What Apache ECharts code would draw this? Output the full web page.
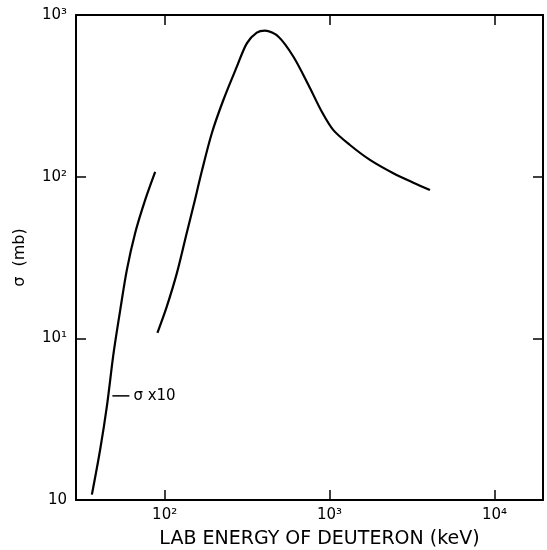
<!DOCTYPE html>
<html>
<head>
<meta charset="utf-8">
<script src="https://cdn.jsdelivr.net/npm/echarts@6/dist/echarts.min.js"></script>
<style>html,body{margin:0;padding:0;background:#fff}#c{width:547px;height:550px}</style>
</head>
<body>
<div id="c"></div>
<script>
// Lab energy of deuteron (keV) and sigma (mb)
const lowEnergy = [36.2, 40.6, 44.6, 49.0, 53.8, 59.0, 66.2, 76.2, 87.6];
const lowSigmaX10 = [1.08, 2.04, 3.78, 8.09, 15.0, 26.5, 44.7, 71.8, 107];
const mainEnergy = [90.4, 103, 118.6, 136, 149.6, 168, 193, 227, 274, 315, 362, 406, 490, 604, 745, 898, 1055, 1330, 1758, 2436, 3222, 4064];
const mainSigma = [10.8, 15.7, 25.3, 44.7, 66, 108, 185, 298, 479, 668, 778, 800, 734, 552, 369, 252, 194, 157, 127, 105, 91.8, 82.7];
const xTickValues = [100, 1000, 10000];
const xTickLabels = ['10²', '10³', '10⁴'];
const yTickValues = [1, 10, 100, 1000];
const yTickLabels = ['10', '10¹', '10²', '10³'];
const annotationPoint = [47.2, 4.47];
const annotationText = 'σ x10';
const xTitle = 'LAB ENERGY OF DEUTERON (keV)';
const yTitle = 'σ  (mb)';

const font = 'DejaVu Sans';
function pairs(xs, ys) { return xs.map((x, i) => [x, ys[i]]); }
function labelFor(values, labels) {
  return function (v) {
    for (let i = 0; i < values.length; i++) {
      if (Math.abs(Math.log10(v) - Math.log10(values[i])) < 0.01) return labels[i];
    }
    return '';
  };
}
const axisLine = { show: true, lineStyle: { color: '#000', width: 2 } };
const tick = { show: true, inside: true, length: 10, lineStyle: { color: '#000', width: 1.5 } };

const chart = echarts.init(document.getElementById('c'), null, { renderer: 'canvas' });
chart.setOption({
  animation: false,
  backgroundColor: '#fff',
  grid: { left: 76, right: 4, top: 15, bottom: 50, containLabel: false, outerBoundsMode: 'none' },
  xAxis: [
    {
      type: 'log', logBase: 10, min: 29, max: 19700, position: 'bottom',
      axisLine: axisLine, axisTick: tick, splitLine: { show: false }, minorTick: { show: false },
      axisLabel: { formatter: labelFor(xTickValues, xTickLabels), color: '#000', fontFamily: font, fontSize: 15, margin: 8 },
      name: xTitle, nameLocation: 'middle', nameGap: 30,
      nameTextStyle: { color: '#000', fontFamily: font, fontSize: 19, padding: [0, 0, 0, 20] }
    },
    {
      type: 'log', logBase: 10, min: 29, max: 19700, position: 'top',
      axisLine: axisLine, axisTick: tick, splitLine: { show: false }, axisLabel: { show: false }
    }
  ],
  yAxis: [
    {
      type: 'log', logBase: 10, min: 1, max: 1000, position: 'left',
      axisLine: axisLine, axisTick: tick, splitLine: { show: false }, minorTick: { show: false },
      axisLabel: { formatter: labelFor(yTickValues, yTickLabels), color: '#000', fontFamily: font, fontSize: 15, margin: 9 },
      name: yTitle, nameLocation: 'middle', nameGap: 48, nameRotate: 90,
      nameTextStyle: { color: '#000', fontFamily: font, fontSize: 16 }
    },
    {
      type: 'log', logBase: 10, min: 1, max: 1000, position: 'right',
      axisLine: axisLine, axisTick: tick, splitLine: { show: false }, axisLabel: { show: false }
    }
  ],
  series: [
    {
      type: 'line', xAxisIndex: 0, yAxisIndex: 0, data: pairs(lowEnergy, lowSigmaX10),
      smooth: 0.3, showSymbol: false, symbol: 'none',
      lineStyle: { color: '#000', width: 2.2 },
      markPoint: {
        symbol: 'rect', symbolSize: [17, 1.5], symbolOffset: [10, 1],
        itemStyle: { color: '#000' },
        label: { show: true, position: 'right', distance: 4, formatter: annotationText, color: '#000', fontFamily: font, fontSize: 15 },
        data: [{ coord: annotationPoint }]
      }
    },
    {
      type: 'line', xAxisIndex: 0, yAxisIndex: 0, data: pairs(mainEnergy, mainSigma),
      smooth: 0.3, showSymbol: false, symbol: 'none',
      lineStyle: { color: '#000', width: 2.2 }
    }
  ]
});
</script>
</body>
</html>
